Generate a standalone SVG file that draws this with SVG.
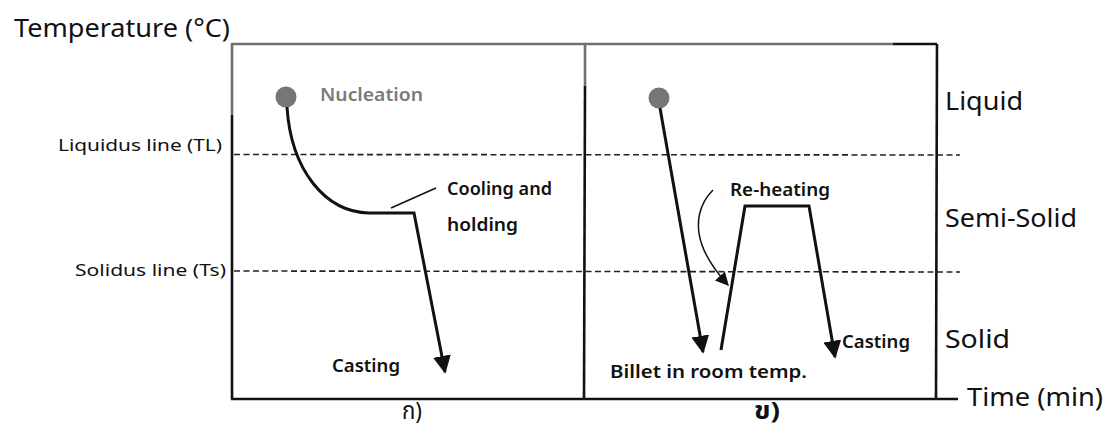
<svg xmlns="http://www.w3.org/2000/svg" width="1112" height="428" viewBox="0 0 1112 428">
  <style>
    .t { font-family: "Noto Sans", "Open Sans", "DejaVu Sans", sans-serif; fill: #111; }
    .lab { font-size: 17px; font-weight: 600; }
    .axis { font-size: 17px; }
    .zone { font-size: 25px; }
    .thai { font-family: "Noto Sans Thai", "Noto Sans", "DejaVu Sans", sans-serif; font-size: 24px; }
    .frame { stroke: #111; stroke-width: 2.6; fill: none; }
    .frame-g { stroke: #707070; stroke-width: 2.6; fill: none; }
    .dash { stroke: #222; stroke-width: 1.6; stroke-dasharray: 6 3.5; fill: none; }
    .curve { stroke: #111; stroke-width: 3; fill: none; stroke-linejoin: miter; }
    .lead { stroke: #111; stroke-width: 1.5; fill: none; }
  </style>
  <defs>
    <marker id="arr" viewBox="0 0 10 10" refX="9" refY="5" markerWidth="6" markerHeight="6" orient="auto" markerUnits="strokeWidth">
      <path d="M0,0 L10,5 L0,10 z" fill="#111"/>
    </marker>
    <marker id="arrs" viewBox="0 0 10 10" refX="9" refY="5" markerWidth="9" markerHeight="9" orient="auto" markerUnits="strokeWidth">
      <path d="M0,0 L10,5 L0,10 z" fill="#111"/>
    </marker>
  </defs>
  <rect width="1112" height="428" fill="#fff"/>

  <!-- chart frame -->
  <g id="frame">
    <line class="frame-g" x1="232" y1="44" x2="893" y2="44"/>
    <line class="frame" x1="893" y1="44" x2="937" y2="44"/>
    <line class="frame-g" x1="232" y1="43" x2="232" y2="115"/>
    <line class="frame" x1="232" y1="115" x2="232" y2="399"/>
    <line class="frame-g" x1="585" y1="44" x2="585" y2="86"/>
    <line class="frame" x1="585" y1="86" x2="584" y2="399"/>
    <line class="frame" x1="937" y1="44" x2="936" y2="399"/>
    <line class="frame" x1="231" y1="399" x2="958" y2="399"/>
  </g>

  <!-- liquidus and solidus lines -->
  <g id="phase-lines">
    <line class="dash" x1="234" y1="154.5" x2="960" y2="155"/>
    <line class="dash" x1="234" y1="271" x2="960" y2="272"/>
  </g>

  <!-- axis and zone labels -->
  <g id="labels">
    <text class="t" x="14" y="37" font-size="26" textLength="216" lengthAdjust="spacingAndGlyphs">Temperature (°C)</text>
    <text class="t axis" x="222" y="151" text-anchor="end" textLength="164" lengthAdjust="spacingAndGlyphs">Liquidus line (TL)</text>
    <text class="t axis" x="226" y="276" text-anchor="end" textLength="151" lengthAdjust="spacingAndGlyphs">Solidus line (Ts)</text>
    <text class="t zone" x="945" y="110" textLength="78" lengthAdjust="spacingAndGlyphs">Liquid</text>
    <text class="t zone" x="945" y="227" textLength="132" lengthAdjust="spacingAndGlyphs">Semi-Solid</text>
    <text class="t zone" x="945" y="348" textLength="65" lengthAdjust="spacingAndGlyphs">Solid</text>
    <text class="t zone" x="967" y="406" textLength="136" lengthAdjust="spacingAndGlyphs">Time (min)</text>
    <text class="t thai" x="402" y="419" textLength="20" lengthAdjust="spacingAndGlyphs">ก)</text>
    <text class="t thai" x="754" y="419" font-weight="700" textLength="26" lengthAdjust="spacingAndGlyphs">ข)</text>
  </g>

  <!-- (ก) cooling and holding route -->
  <g id="route-a">
    <circle cx="286" cy="97" r="10.5" fill="#767676"/>
    <text class="t lab" x="320" y="101" style="fill:#7a7a7a" textLength="103" lengthAdjust="spacingAndGlyphs">Nucleation</text>
    <path class="curve" d="M287,107 C291,170 325,212 369,213 L414,213 L445,372" marker-end="url(#arr)"/>
    <line class="lead" x1="436" y1="188" x2="391" y2="208"/>
    <text class="t lab" x="447" y="195" textLength="105" lengthAdjust="spacingAndGlyphs">Cooling and</text>
    <text class="t lab" x="447" y="231" textLength="71" lengthAdjust="spacingAndGlyphs">holding</text>
    <text class="t lab" x="332" y="372" textLength="68" lengthAdjust="spacingAndGlyphs">Casting</text>
  </g>

  <!-- (ข) billet re-heating route -->
  <g id="route-b">
    <circle cx="659" cy="98" r="10.5" fill="#767676"/>
    <path class="curve" d="M660,108 L703,352" marker-end="url(#arr)"/>
    <path class="curve" d="M721,350 L745,206 L809,206 L835,357" marker-end="url(#arr)"/>
    <path class="lead" d="M713,190 C700,203 694,222 702,245 C708,262 718,274 728,285" marker-end="url(#arrs)"/>
    <text class="t lab" x="730" y="196" textLength="100" lengthAdjust="spacingAndGlyphs">Re-heating</text>
    <text class="t lab" x="842" y="348" textLength="68" lengthAdjust="spacingAndGlyphs">Casting</text>
    <text class="t lab" x="610" y="378" textLength="197" lengthAdjust="spacingAndGlyphs">Billet in room temp.</text>
  </g>
</svg>
